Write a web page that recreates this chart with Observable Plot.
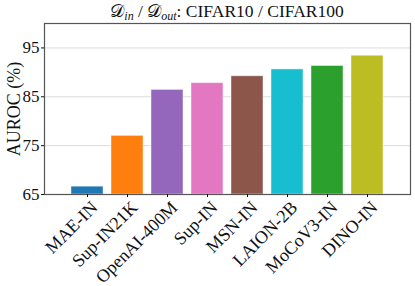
<!DOCTYPE html>
<html>
<head>
<meta charset="utf-8">
<script src="https://cdn.jsdelivr.net/npm/d3@7"></script>
<script src="https://cdn.jsdelivr.net/npm/@observablehq/plot@0.6"></script>
<style>
  html, body { margin: 0; padding: 0; background: white; }
  #title { height: 21px; width: 415px; box-sizing: border-box; padding-left: 39px; text-align: center;
           font-family: "Liberation Serif", serif; font-size: 17.5px; line-height: 22px; color: #111; white-space: nowrap; }
  #title sub { font-size: 12px; font-style: italic; vertical-align: -3px; line-height: 0; }
  .cal { font-family: "DejaVu Serif", "DejaVu Sans", serif; font-style: normal; }
  #chart svg, #chart svg text { font-family: "Liberation Serif", serif !important; }
</style>
</head>
<body>
<div id="title"><span class="cal">𝒟</span><sub>in</sub> / <span class="cal">𝒟</span><sub>out</sub>: CIFAR10 / CIFAR100</div>
<div id="chart"></div>
<script>
const models = ["MAE-IN", "Sup-IN21K", "OpenAI-400M", "Sup-IN", "MSN-IN", "LAION-2B", "MoCoV3-IN", "DINO-IN"];
const auroc = [66.6, 77.0, 86.4, 87.8, 89.2, 90.6, 91.3, 93.4];
const colors = ["#1f77b4", "#ff7f0e", "#9467bd", "#e377c2", "#8c564b", "#17becf", "#2ca02c", "#bcbd22"];
const yTicks = [65, 75, 85, 95];

const data = models.map((m, i) => ({model: m, auroc: auroc[i]}));
const serif = "Liberation Serif";

const chart = Plot.plot({
  width: 415,
  height: 265,
  marginLeft: 44,
  marginRight: 5,
  marginTop: 2,
  marginBottom: 92,
  style: {fontFamily: serif, fontSize: "17px", color: "#111", background: "white"},
  x: {domain: models, paddingInner: 0.2, paddingOuter: 0.6, label: null},
  y: {domain: [65, 100], label: null},
  color: {domain: models, range: colors},
  marks: [
    Plot.gridY(yTicks.slice(1), {stroke: "#dcdcdc", strokeOpacity: 1}),
    Plot.barY(data, {x: "model", y1: 65, y2: "auroc", fill: "model", stroke: "white", strokeOpacity: 0.45, strokeWidth: 1}),
    Plot.frame({stroke: "#555", strokeWidth: 1.2}),
    Plot.axisY(yTicks, {tickSize: 3, tickPadding: 2, label: null, fontSize: 17}),
    Plot.axisX({tickSize: 3, text: null, label: null}),
    Plot.axisX({tickSize: 0, tickPadding: 5, tickRotate: -45, label: null, fontSize: 18, dx: 7, dy: 5}),
    Plot.text(["AUROC (%)"], {frameAnchor: "left", dx: -30, rotate: -90, fontSize: 18, textAnchor: "middle"})
  ]
});
document.getElementById("chart").appendChild(chart);
</script>
</body>
</html>
